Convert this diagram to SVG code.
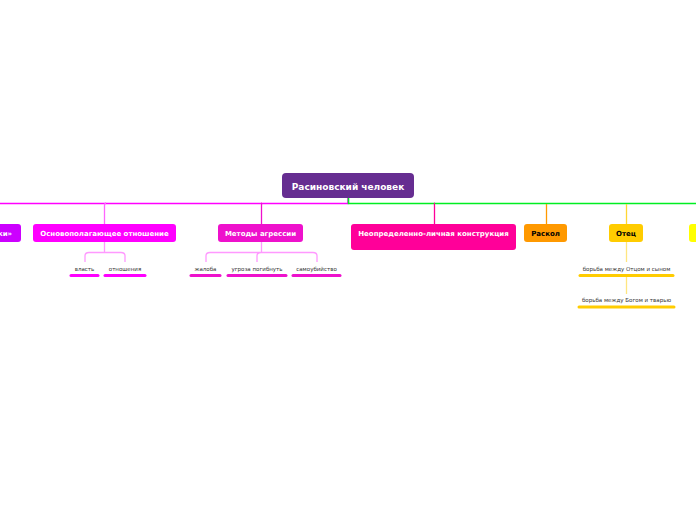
<svg xmlns="http://www.w3.org/2000/svg" width="696" height="520" viewBox="0 0 696 520">
<style>
.t{font-family:"DejaVu Sans",Verdana,sans-serif;font-weight:bold;text-anchor:middle}
.b{font-size:7px}
.s{font-family:"DejaVu Sans",Verdana,sans-serif;font-size:5.5px;fill:#333;text-anchor:middle}
.c{fill:none;stroke-width:1.3}
.u{stroke-width:3;stroke-linecap:round}
</style>
<rect width="696" height="520" fill="#fff"/>
<g id="connectors">
<path class="c" d="M348 198V203.5H0" stroke="#ff00ff" style="stroke-width:1.5"/>
<path class="c" d="M348.5 198V203.5H696" stroke="#00ee22" style="stroke-width:1.6"/>
<path class="c" d="M106 203Q104.5 203 104.5 206V224" stroke="#ff66ff"/>
<path class="c" d="M262 203Q261.5 203 261.5 206V224" stroke="#ee11cc"/>
<path class="c" d="M434 203Q434.5 203 434.5 206V224" stroke="#ff0099"/>
<path class="c" d="M546.5 204V224" stroke="#ff9900"/>
<path class="c" d="M626.5 204V224" stroke="#ffd633"/>
<path class="c" d="M104.5 242V252M89 252.5H121Q125 252.5 125 256V262M89 252.5Q85 252.5 85 256V262" stroke="#ff99ff"/>
<path class="c" d="M261.5 242V252M210 252.5H313Q317 252.5 317 256V262M210 252.5Q206 252.5 206 256V262M261 252.5Q257 252.5 257 256V262" stroke="#ff99ff"/>
<path class="c" d="M626.5 242V262M626.5 277V294" stroke="#ffe680"/>
</g>
<g id="root">
<rect x="282" y="173" width="132" height="25" rx="4" fill="#662d91"/>
<text class="t" x="348" y="190" font-size="9" fill="#fff">Расиновский человек</text>
</g>
<g id="n-ki">
<rect x="-20" y="224" width="41" height="18" rx="3" fill="#cc00ff"/>
<text class="t b" x="5" y="236" fill="#fff">ки»</text>
</g>
<g id="n-osnov">
<rect x="33" y="224" width="143" height="18" rx="3" fill="#ff00ff"/>
<text class="t b" x="104.5" y="236" fill="#fff">Основополагающее отношение</text>
</g>
<g id="n-metody">
<rect x="218" y="224" width="85" height="18" rx="3" fill="#ee11cc"/>
<text class="t b" x="260.5" y="236" fill="#fff">Методы агрессии</text>
</g>
<g id="n-neopr">
<rect x="351" y="224" width="165" height="26" rx="3" fill="#ff0099"/>
<text class="t b" x="433.5" y="236" fill="#fff">Неопределенно-личная конструкция</text>
</g>
<g id="n-raskol">
<rect x="524" y="224" width="43" height="18" rx="3" fill="#ff9900"/>
<text class="t b" x="545.5" y="236" fill="#000">Раскол</text>
</g>
<g id="n-otec">
<rect x="609" y="224" width="34" height="18" rx="3" fill="#ffcc00"/>
<text class="t b" x="626" y="236" fill="#000">Отец</text>
</g>
<g id="n-yellow">
<rect x="689" y="224" width="30" height="18" rx="3" fill="#ffff00"/>
</g>
<g id="s-vlast">
<text class="s" x="84.5" y="271">власть</text>
<line class="u" x1="71" y1="275.5" x2="98" y2="275.5" stroke="#ff00ff"/>
</g>
<g id="s-otnosh">
<text class="s" x="125" y="271">отношения</text>
<line class="u" x1="105" y1="275.5" x2="145" y2="275.5" stroke="#ff00ff"/>
</g>
<g id="s-zhaloba">
<text class="s" x="205.5" y="271">жалоба</text>
<line class="u" x1="191" y1="275.5" x2="220" y2="275.5" stroke="#ee11cc"/>
</g>
<g id="s-ugroza">
<text class="s" x="257" y="271">угроза погибнуть</text>
<line class="u" x1="228" y1="275.5" x2="286" y2="275.5" stroke="#ee11cc"/>
</g>
<g id="s-samoub">
<text class="s" x="316.5" y="271">самоубийство</text>
<line class="u" x1="293" y1="275.5" x2="340" y2="275.5" stroke="#ee11cc"/>
</g>
<g id="s-otcom">
<text class="s" x="626.5" y="271">борьба между Отцом и сыном</text>
<line class="u" x1="580" y1="275.5" x2="673" y2="275.5" stroke="#ffcc00"/>
</g>
<g id="s-bogom">
<text class="s" x="626.5" y="302">борьба между Богом и тварью</text>
<line class="u" x1="579" y1="307" x2="674" y2="307" stroke="#ffcc00"/>
</g>
</svg>
